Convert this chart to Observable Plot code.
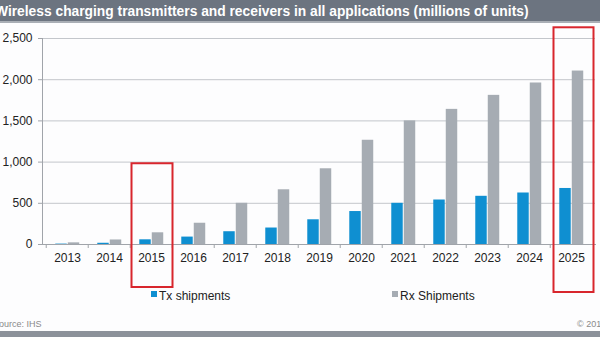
<!DOCTYPE html>
<html><head><meta charset="utf-8">
<script src="https://cdn.jsdelivr.net/npm/d3@7"></script>
<script src="https://cdn.jsdelivr.net/npm/@observablehq/plot@0.6"></script>
<style>
body{margin:0;background:#fff;font-family:"Liberation Sans",Arial,sans-serif;}
#wrap{position:relative;width:600px;height:337px;overflow:hidden;background:#fdfdfe;}
#title{position:absolute;left:0;top:0;width:600px;height:21px;background:#6c7480;border-bottom:2px solid #a9aeb5;color:#fff;font-weight:bold;font-size:13.8px;line-height:23px;white-space:nowrap;}
#title span{position:absolute;left:-5px;}
#chart{position:absolute;left:0;top:22px;}
.leg{position:absolute;top:289px;font-size:12px;color:#222;white-space:nowrap;}
.sw{display:inline-block;width:6px;height:6px;margin-right:2px;position:relative;top:-3px;}
#source{position:absolute;left:-7px;top:319px;font-size:9px;color:#8a8a8a;white-space:nowrap;}
#copy{position:absolute;left:577px;top:319px;font-size:9px;color:#8a8a8a;white-space:nowrap;}
#bottombar{position:absolute;left:0;top:331px;width:600px;height:6px;background:#8c929a;}
</style>
</head><body>
<div id="wrap">
  <div id="title"><span>Wireless charging transmitters and receivers in all applications (millions of units)</span></div>
  <div id="chart"></div>
  <div class="leg" id="leg0" style="left:151px"></div>
  <div class="leg" id="leg1" style="left:392px"></div>
  <div id="source">Source: IHS</div>
  <div id="copy">© 2016 IHS</div>
  <div id="bottombar"></div>
</div>
<script>
const years = ["2013","2014","2015","2016","2017","2018","2019","2020","2021","2022","2023","2024","2025"];
const txShipments = [5, 15, 57, 90, 155, 200, 300, 400, 500, 540, 585, 625, 680];
const rxShipments = [20, 55, 142, 258, 500, 664, 919, 1265, 1500, 1640, 1810, 1960, 2105];
const seriesNames = ["Tx shipments", "Rx Shipments"];
const yTicks = [0, 500, 1000, 1500, 2000, 2500];
const highlight2015 = [{year: "2015", top: 980}];
const highlight2025 = [{year: "2025", top: 2630}];

const txColor = "#0f8fd1", rxColor = "#a6acb3", boxColor = "#d8262d";
const W = 600, H = 272, mL = 42, mR = 5, mT = 16, mB = 50;
const bw = (W - mL - mR) / years.length;
const barW = 12;

const txData = years.map((y, i) => ({year: y, value: txShipments[i]}));
const rxData = years.map((y, i) => ({year: y, value: rxShipments[i]}));

const chart = Plot.plot({
  width: W, height: H,
  marginLeft: mL, marginRight: mR, marginTop: mT, marginBottom: mB,
  style: {fontFamily: "'Liberation Sans', Arial, sans-serif", fontSize: "12px", color: "#222", background: "transparent", overflow: "visible"},
  x: {domain: years, padding: 0, label: null},
  y: {domain: [0, 2500], label: null},
  marks: [
    Plot.gridY({ticks: yTicks, stroke: "#c3c6cb", strokeOpacity: 1}),
    Plot.barY(txData, {x: "year", y: "value", fill: txColor, insetLeft: bw/2 - barW, insetRight: bw/2}),
    Plot.barY(rxData, {x: "year", y: "value", fill: rxColor, insetLeft: bw/2 + 0.5, insetRight: bw/2 - barW - 0.5}),
    Plot.frame({anchor: "left", stroke: "#a0a4aa"}),
    Plot.frame({anchor: "bottom", stroke: "#a0a4aa"}),
    Plot.axisY({ticks: yTicks, tickFormat: d3.format(","), tickSize: 4, tickPadding: 6, stroke: "#a0a4aa", fontSize: 12, fill: "#222", label: null}),
    Plot.axisX({tickSize: 0, tickPadding: 9, fontSize: 12, fill: "#222", label: null}),
    Plot.axisX({tickSize: 4, tickFormat: () => "", dx: -bw/2, stroke: "#a0a4aa", label: null}),
    Plot.barY(highlight2015, {x: "year", y1: 0, y2: "top", fill: "none", stroke: boxColor, strokeWidth: 2, insetLeft: 1.5, insetRight: -0.5, insetBottom: -43}),
    Plot.barY(highlight2025, {x: "year", y1: 0, y2: "top", fill: "none", stroke: boxColor, strokeWidth: 2, insetLeft: 3.5, insetRight: -1.5, insetBottom: -48})
  ]
});
document.getElementById("chart").appendChild(chart);

const colors = [txColor, rxColor];
seriesNames.forEach((name, i) => {
  const el = document.getElementById("leg" + i);
  el.innerHTML = `<span class="sw" style="background:${colors[i]}"></span>${name}`;
});
</script>
</body></html>
